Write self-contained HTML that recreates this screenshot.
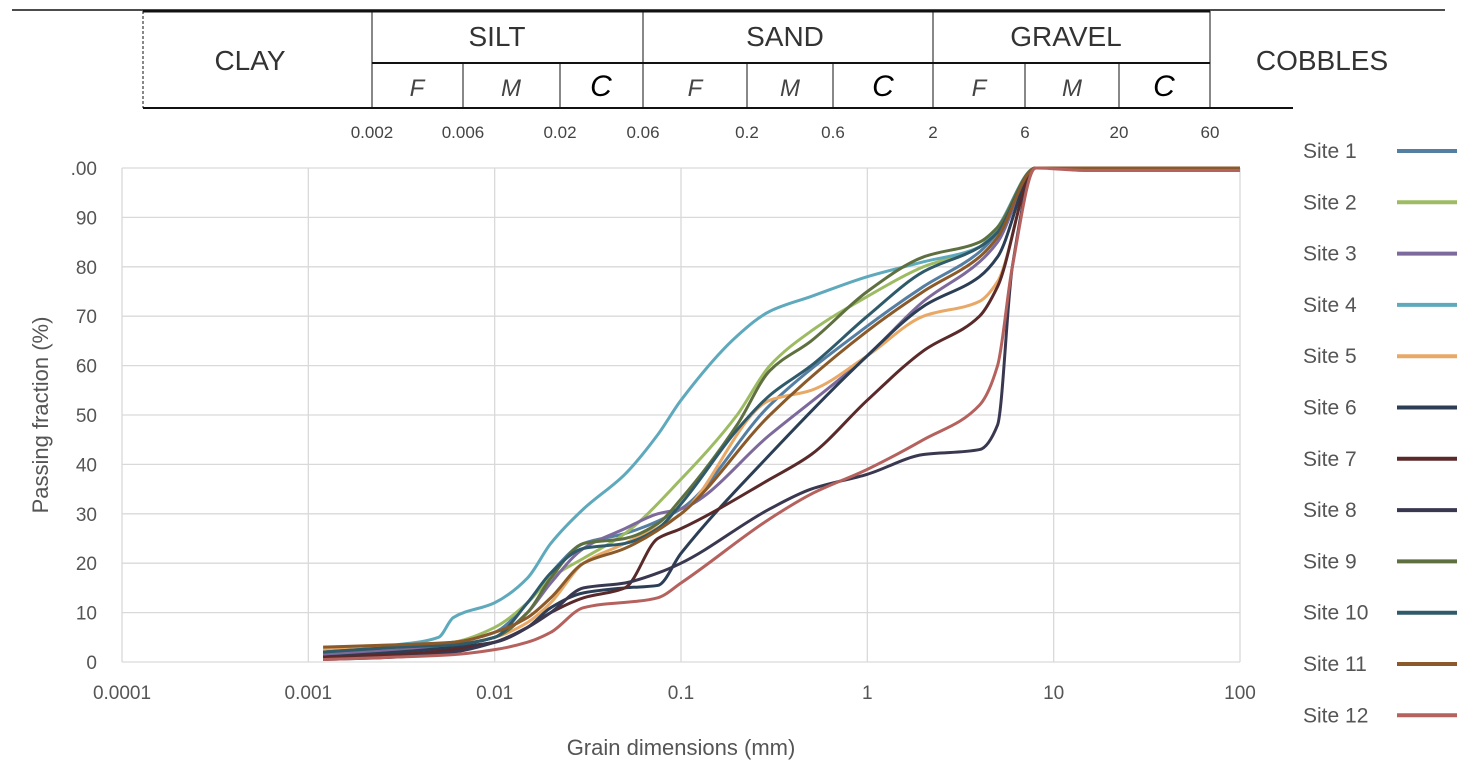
<!DOCTYPE html>
<html><head><meta charset="utf-8"><style>
body{margin:0;background:#fff;width:1482px;height:778px;overflow:hidden;font-family:"Liberation Sans",sans-serif}
svg text{font-family:"Liberation Sans",sans-serif}
</style></head><body>
<svg id="chart" width="1482" height="778" xmlns="http://www.w3.org/2000/svg">
<g id="header"></g>
<g id="grid"></g>
<g id="series"></g>
<g id="legend"></g>
</svg>
<script>
const xTicks=[0.0001,0.001,0.01,0.1,1,10,100];
const xTickLabels=["0.0001","0.001","0.01","0.1","1","10","100"];
const yTicks=[0,10,20,30,40,50,60,70,80,90,100];
const yTickLabels=["0","10","20","30","40","50","60","70","80","90",".00"];
const siteNames=["Site  1","Site  2","Site  3","Site  4","Site  5","Site  6","Site  7","Site  8","Site  9","Site  10","Site  11","Site  12"];
const siteColors=["#557ea3","#9dbb62","#7d6a9c","#5fa9bd","#e8a866","#2b3e55","#5a2a2a","#3a3850","#5f7040","#2f5a6a","#8a5a2a","#b5625e"];
const x1=[0.0012,0.003,0.006,0.01,0.015,0.02,0.03,0.05,0.1,0.3,1,2,4,5,8,100];
const s1=[1.5,3,4,6,12,18,24,26,31,52,68,76,83,87,100,100];
const x2=[0.0012,0.003,0.006,0.01,0.015,0.02,0.03,0.05,0.1,0.2,0.3,0.5,1,2,4,5,8,100];
const s2=[2,3,4,7,12,17,21,26,37,50,60,67,74,80,84,88,100,100];
const x3=[0.0012,0.003,0.006,0.01,0.015,0.02,0.03,0.05,0.075,0.1,0.3,1,2,4,5,8,100];
const s3=[1.5,2.5,3.5,5,10,16,23,27,30,31,46,62,73,81,85,100,100];
const x4=[0.0012,0.003,0.005,0.006,0.01,0.015,0.02,0.03,0.05,0.075,0.1,0.2,0.3,0.5,1,2,4,5,8,100];
const s4=[2,3.5,5,9,12,17,24,31,38,46,53,66,71,74,78,81,84,88,100,100];
const x5=[0.0012,0.003,0.006,0.01,0.015,0.02,0.03,0.05,0.1,0.3,0.5,1,2,4,5,8,100];
const s5=[2.5,3,3.5,5,8,12,20,24,30,53,55,62,70,73,77,100,100];
const x6=[0.0012,0.003,0.006,0.01,0.015,0.02,0.03,0.05,0.075,0.1,0.3,1,2,4,5,8,100];
const s6=[1,2,3,4,7,11,14,15,15.5,22,42,62,72,78,82,100,100];
const x7=[0.0012,0.003,0.006,0.01,0.015,0.02,0.03,0.05,0.075,0.1,0.3,0.5,1,2,4,5,8,100];
const s7=[1,1.5,2.5,4,7,10,13,15,25,27,37,42,53,63,70,76,100,100];
const x8=[0.0012,0.003,0.006,0.01,0.015,0.02,0.03,0.05,0.075,0.1,0.3,0.5,1,2,4,5,6,8,100];
const s8=[0.5,1,2,4,7,10,15,16,18,20,31,35,38,42,43,48,80,100,100];
const x9=[0.0012,0.003,0.006,0.01,0.015,0.02,0.03,0.05,0.075,0.1,0.2,0.3,0.5,1,2,4,5,8,100];
const s9=[2,3,3.5,5,10,17,24,25,28,33,48,59,65,75,82,85,88,100,100];
const x10=[0.0012,0.003,0.006,0.01,0.015,0.02,0.03,0.05,0.075,0.1,0.2,0.3,0.5,1,2,4,5,8,100];
const s10=[2,3,3.5,5,12,18,23,24,27,32,47,54,60,70,79,84,87,100,100];
const x11=[0.0012,0.003,0.006,0.01,0.015,0.02,0.03,0.05,0.1,0.3,1,2,4,5,8,100];
const s11=[3,3.5,4,6,9,13,20,23,30,50,67,75,82,86,100,100];
const x12=[0.0012,0.003,0.006,0.01,0.015,0.02,0.03,0.075,0.1,0.3,0.5,1,2,4,5,6,8,15,100];
const s12=[0.5,1,1.5,2.5,4,6,11,13,16,29,34,39,45,52,60,80,100,99.5,99.5];
const seriesX=[x1,x2,x3,x4,x5,x6,x7,x8,x9,x10,x11,x12];
const seriesY=[s1,s2,s3,s4,s5,s6,s7,s8,s9,s10,s11,s12];

const NS="http://www.w3.org/2000/svg";
const X0=122,X1=1240,Y0=662,Y1=168;
function xs(v){return X0+(Math.log10(v)+4)/6*(X1-X0);}
function ys(v){return Y0-v/100*(Y0-Y1);}
function mk(tag,attrs,parent,txt){const e=document.createElementNS(NS,tag);for(const k in attrs)e.setAttribute(k,attrs[k]);if(txt!==undefined)e.textContent=txt;parent.appendChild(e);return e;}

// header
const H=document.getElementById('header');
mk('line',{x1:12,y1:10,x2:1445,y2:10,stroke:'#111','stroke-width':1.5},H);
mk('line',{x1:143,y1:11,x2:1210,y2:11,stroke:'#111','stroke-width':3},H);
mk('line',{x1:143,y1:108,x2:1293,y2:108,stroke:'#111','stroke-width':2},H);
mk('line',{x1:143,y1:11,x2:143,y2:108,stroke:'#111','stroke-width':1,'stroke-dasharray':'3,2'},H);
mk('line',{x1:372,y1:63,x2:1210,y2:63,stroke:'#111','stroke-width':2},H);
[372,643,933,1210].forEach(x=>mk('line',{x1:x,y1:11,x2:x,y2:108,stroke:'#111','stroke-width':1},H));
[463,560,747,833,1025,1119].forEach(x=>mk('line',{x1:x,y1:63,x2:x,y2:108,stroke:'#111','stroke-width':1},H));
[["CLAY",250,70],["SILT",497,46],["SAND",785,46],["GRAVEL",1066,46],["COBBLES",1322,70]].forEach(a=>{const t=mk('text',{x:a[1],y:a[2],'text-anchor':'middle','font-size':28,fill:'#333'},H,a[0]);});
const sub=[[417,"F"],[511,"M"],[601,"C"],[695,"F"],[790,"M"],[883,"C"],[979,"F"],[1072,"M"],[1164,"C"]];
sub.forEach(a=>{const isC=a[1]=="C";mk('text',{x:a[0],y:96,'text-anchor':'middle','font-size':isC?30:24,'font-style':'italic',fill:isC?'#000':'#444'},H,a[1]);});
[[372,"0.002"],[463,"0.006"],[560,"0.02"],[643,"0.06"],[747,"0.2"],[833,"0.6"],[933,"2"],[1025,"6"],[1119,"20"],[1210,"60"]].forEach(a=>mk('text',{x:a[0],y:138,'text-anchor':'middle','font-size':17,fill:'#444'},H,a[1]));

// grid & axes
const G=document.getElementById('grid');
yTicks.forEach((v,i)=>{mk('line',{x1:X0,y1:ys(v),x2:X1,y2:ys(v),stroke:'#d9d9d9','stroke-width':1.3},G);
 const t=mk('text',{x:97,y:ys(v)+7,'text-anchor':'end','font-size':19,fill:'#555'},G,yTickLabels[i]);});
xTicks.forEach((v,i)=>{mk('line',{x1:xs(v),y1:Y1,x2:xs(v),y2:Y0,stroke:'#d9d9d9','stroke-width':1.3},G);
 const t=mk('text',{x:xs(v),y:699,'text-anchor':'middle','font-size':19,fill:'#555'},G,xTickLabels[i]);});
let yt=mk('text',{x:48,y:415,'text-anchor':'middle','font-size':22,fill:'#555',transform:'rotate(-90 48 415)'},G,'Passing fraction (%)');

let xt=mk('text',{x:681,y:755,'text-anchor':'middle','font-size':22,fill:'#555'},G,'Grain dimensions (mm)');


// series: monotone cubic (Fritsch-Carlson) in pixel space
function pathFor(xa,ya){const p=xa.map((x,i)=>[xs(x),ys(ya[i])]);const n=p.length;
 const dx=[],m=[];for(let i=0;i<n-1;i++){dx.push(p[i+1][0]-p[i][0]);m.push((p[i+1][1]-p[i][1])/dx[i]);}
 const t=new Array(n);t[0]=m[0];t[n-1]=m[n-2];
 for(let i=1;i<n-1;i++){if(m[i-1]*m[i]<=0)t[i]=0;else{const w1=2*dx[i]+dx[i-1],w2=dx[i]+2*dx[i-1];t[i]=(w1+w2)/(w1/m[i-1]+w2/m[i]);}}
 let d='M'+p[0][0]+','+p[0][1];
 for(let i=0;i<n-1;i++){const h=dx[i]/3;d+=' C'+(p[i][0]+h)+','+(p[i][1]+t[i]*h)+' '+(p[i+1][0]-h)+','+(p[i+1][1]-t[i+1]*h)+' '+p[i+1][0]+','+p[i+1][1];}
 return d;}
const S=document.getElementById('series');
seriesX.forEach((xa,i)=>{const el=mk('path',{d:pathFor(xa,seriesY[i]),fill:'none',stroke:siteColors[i],'stroke-width':3,'stroke-linejoin':'round'},S);
 
 });

// legend
const L=document.getElementById('legend');
siteNames.forEach((n,i)=>{const y=151+i*51.3;
 const t=mk('text',{x:1303,y:y+7,'font-size':21,fill:'#555','xml:space':'preserve'},L,n);
 
 
 const l=mk('line',{x1:1397,y1:y,x2:1457,y2:y,stroke:siteColors[i],'stroke-width':4},L);
 
 });
</script>
</body></html>
